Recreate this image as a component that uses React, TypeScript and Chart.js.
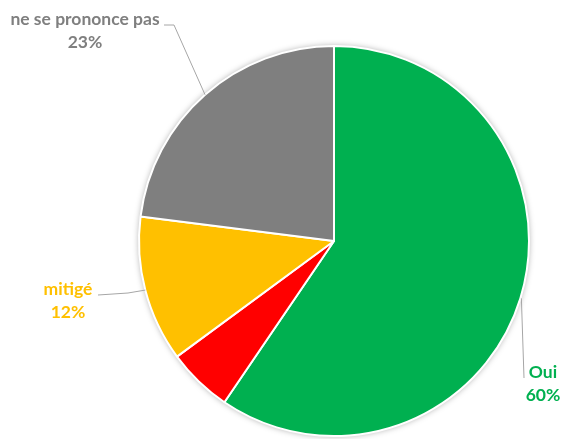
import React, { useEffect, useRef } from "react";
import { Chart, registerables } from "chart.js";

Chart.register(...registerables);

const categories = ["Oui", "non", "mitigé", "ne se prononce pas"];
const values = [59.5, 5.4, 12.1, 23.0];
const colors = ["#00B050", "#FF0000", "#FFC000", "#7F7F7F"];
const labelColors = ["#00B050", "", "#FFC000", "#7F7F7F"];
const showLabel = [true, false, true, true];

export default function App() {
  const ref = useRef<HTMLCanvasElement>(null);

  useEffect(() => {
    document.body.style.margin = "0";
    const shadowPlugin = {
      id: "shadow",
      beforeDatasetsDraw(chart: any) {
        const meta = chart.getDatasetMeta(0);
        const arc = meta.data[0];
        if (!arc) return;
        const ctx = chart.ctx;
        ctx.save();
        ctx.beginPath();
        ctx.arc(arc.x, arc.y, arc.outerRadius, 0, Math.PI * 2);
        ctx.fillStyle = "#ffffff";
        ctx.shadowColor = "rgba(0,0,0,0.35)";
        ctx.shadowBlur = 6;
        ctx.fill();
        ctx.restore();
      },
    };

    const labelPlugin = {
      id: "labels",
      afterDatasetsDraw(chart: any) {
        const ctx = chart.ctx;
        const meta = chart.getDatasetMeta(0);
        const total = values.reduce((a, b) => a + b, 0);
        const placements: any = {
          0: { tx: 543, ty: 378, line: (p: any) => [[p.x + 1, p.y], [524, 378]] },
          2: { tx: 68, ty: 295, line: (p: any) => [[p.x, p.y], [128, 293], [98, 295]] },
          3: { tx: 85, ty: 25, line: (p: any) => [[p.x, p.y], [174, 25], [164, 25]] },
        };
        meta.data.forEach((arc: any, i: number) => {
          if (!showLabel[i]) return;
          const mid = (arc.startAngle + arc.endAngle) / 2;
          const r = arc.outerRadius;
          const p = { x: arc.x + Math.cos(mid) * r, y: arc.y + Math.sin(mid) * r };
          const pl = placements[i];
          const pts = pl.line(p);
          ctx.save();
          ctx.strokeStyle = "#A6A6A6";
          ctx.lineWidth = 1;
          ctx.beginPath();
          ctx.moveTo(pts[0][0], pts[0][1]);
          for (let k = 1; k < pts.length; k++) ctx.lineTo(pts[k][0], pts[k][1]);
          ctx.stroke();
          ctx.fillStyle = labelColors[i];
          ctx.font = "bold 17.5px Lato";
          ctx.textAlign = "center";
          ctx.textBaseline = "alphabetic";
          ctx.fillText(categories[i], pl.tx, pl.ty);
          const pct = Math.round((values[i] / total) * 100) + "%";
          ctx.fillText(pct, pl.tx, pl.ty + 23);
          ctx.restore();
        });
      },
    };

    const chart = new Chart(ref.current!, {
      type: "pie",
      data: {
        labels: categories,
        datasets: [
          {
            data: values,
            backgroundColor: colors,
            borderColor: "#ffffff",
            borderWidth: 2,
          },
        ],
      },
      options: {
        responsive: false,
        animation: false,
        layout: { padding: { left: 138, right: 33, top: 45, bottom: 2 } },
        plugins: { legend: { display: false }, tooltip: { enabled: false } },
      },
      plugins: [shadowPlugin, labelPlugin],
    });
    return () => chart.destroy();
  }, []);

  return (
    <div style={{ position: "absolute", left: 0, top: 0, width: 563, height: 439, background: "#fff" }}>
      <canvas ref={ref} width={563} height={439} />
    </div>
  );
}
